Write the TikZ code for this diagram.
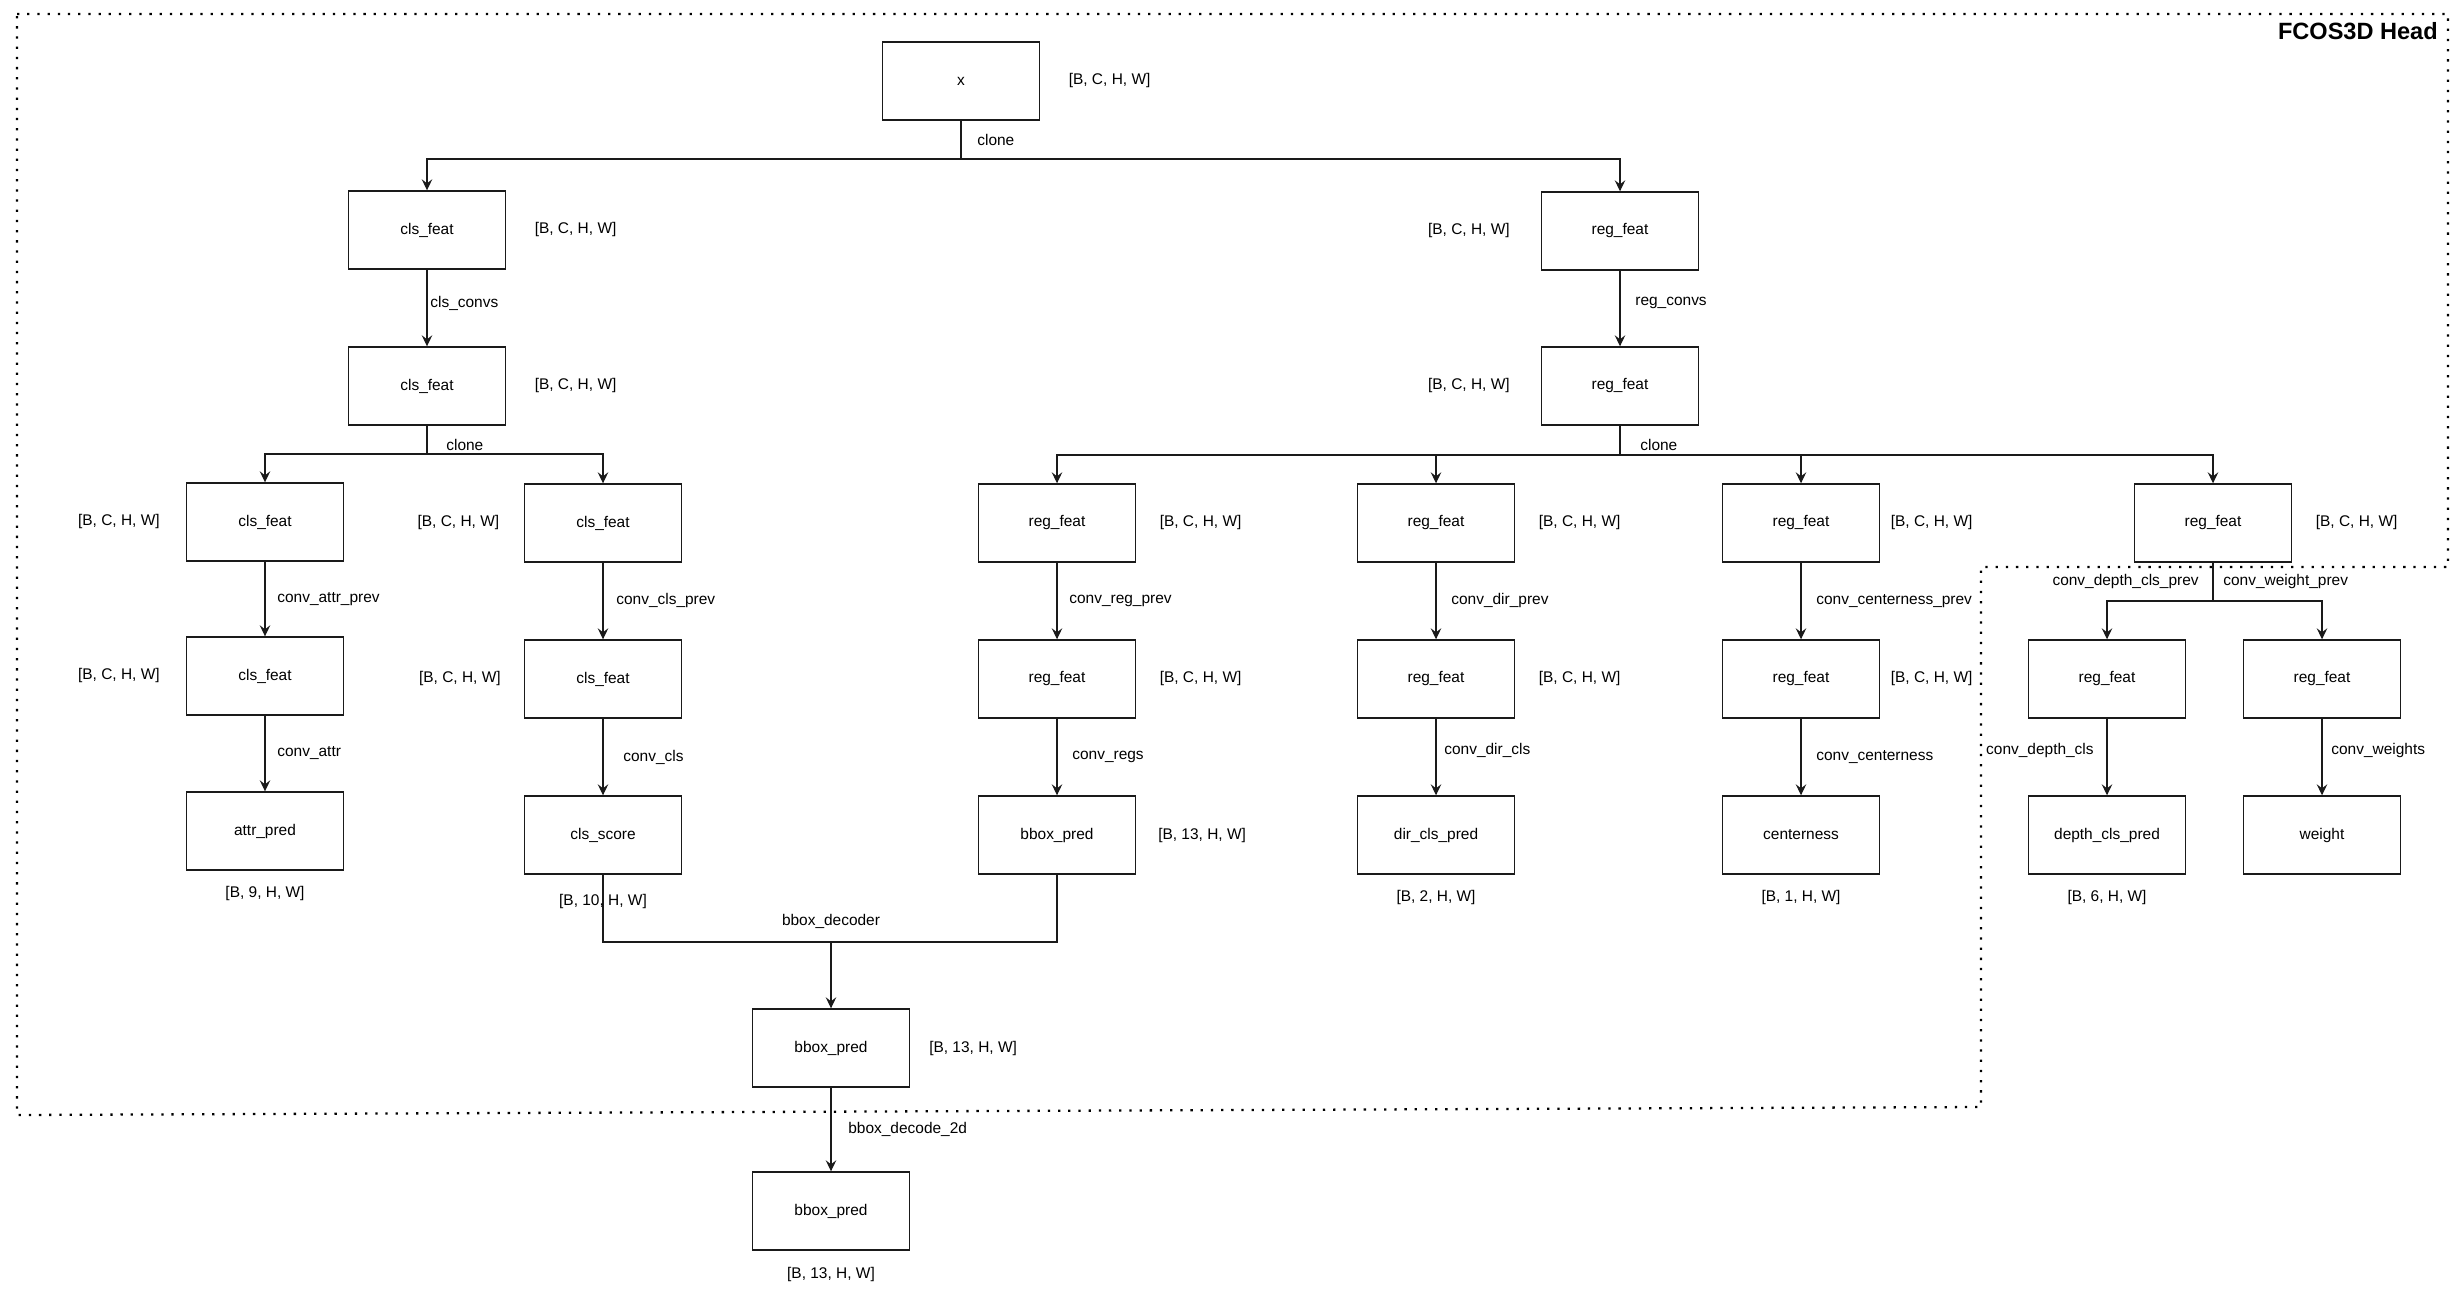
\documentclass[tikz,border=0pt]{standalone}
\usepackage{fontspec}
\setmainfont{Liberation Sans}
\usetikzlibrary{arrows.meta,positioning}
\definecolor{linec}{HTML}{1A1A1A}

\begin{document}
\begin{tikzpicture}[
  x=0.02cm, y=-0.02cm,
  box/.style={rectangle,draw=linec,line width=0.8pt,fill=white,
              minimum width=3.14cm,minimum height=1.56cm,inner sep=0pt,
              font=\fontsize{8.8}{10}\selectfont},
  edge/.style={-{Stealth[length=2.2mm,width=2.1mm,inset=0.8mm]},line width=0.7pt,draw=linec},
  link/.style={line width=0.7pt,draw=linec},
  dim/.style={font=\fontsize{8.8}{10}\selectfont,inner sep=1pt},
  elbl/.style={font=\fontsize{8.8}{10}\selectfont,inner sep=1pt},
  frame/.style={line width=1.3pt,dash pattern=on 1.3pt off 4.5pt},
  headline/.style={font=\fontsize{13.4}{15}\selectfont\bfseries,inner sep=0pt}
]
\useasboundingbox (0,0) rectangle (2464,1300);

\draw[frame] (17,14) -- (2448,14) -- (2448,567) -- (1981,567) -- (1981,1107) -- (17,1115) -- cycle;
\node[headline,anchor=east] (head) at (2438,31) {FCOS3D Head};

\node[box] (inp) at (961,81)    {x};
\node[box] (c1)  at (427,230)   {cls\_feat};
\node[box] (r1)  at (1620,231)  {reg\_feat};
\node[box] (c2)  at (427,386)   {cls\_feat};
\node[box] (r2)  at (1620,386)  {reg\_feat};

\node[box] (ca1) at (265,522)   {cls\_feat};
\node[box] (cb1) at (603,523)   {cls\_feat};
\node[box] (ra1) at (1057,523)  {reg\_feat};
\node[box] (rb1) at (1436,523)  {reg\_feat};
\node[box] (rc1) at (1801,523)  {reg\_feat};
\node[box] (rd1) at (2213,523)  {reg\_feat};

\node[box] (ca2) at (265,676)   {cls\_feat};
\node[box] (cb2) at (603,679)   {cls\_feat};
\node[box] (ra2) at (1057,679)  {reg\_feat};
\node[box] (rb2) at (1436,679)  {reg\_feat};
\node[box] (rc2) at (1801,679)  {reg\_feat};
\node[box] (rd2) at (2107,679)  {reg\_feat};
\node[box] (re2) at (2322,679)  {reg\_feat};

\node[box] (attr)  at (265,831)  {attr\_pred};
\node[box] (score) at (603,835)  {cls\_score};
\node[box] (bbox)  at (1057,835) {bbox\_pred};
\node[box] (dir)   at (1436,835) {dir\_cls\_pred};
\node[box] (ctr)   at (1801,835) {centerness};
\node[box] (depth) at (2107,835) {depth\_cls\_pred};
\node[box] (wgt)   at (2322,835) {weight};
\node[box] (bbox2) at (831,1048) {bbox\_pred};
\node[box] (bbox3) at (831,1211) {bbox\_pred};

\coordinate (s0)  at (961,159);
\coordinate (s1)  at (427,454);
\coordinate (s2)  at (1620,455);
\coordinate (s3)  at (2213,601);
\coordinate (dec) at (831,942);

\draw[link] (inp) -- node[elbl,right=0.28cm] (e0) {clone} (s0);
\draw[edge] (s0) -| (c1);
\draw[edge] (s0) -| (r1);
\draw[edge] (c1) -- node[elbl,right=0.02cm,pos=0.44] (e1) {cls\_convs} (c2);
\draw[edge] (r1) -- node[elbl,right=0.26cm,pos=0.42] (e2) {reg\_convs} (r2);
\draw[link] (c2) -- node[elbl,right=0.34cm,pos=0.68] (e3) {clone} (s1);
\draw[link] (r2) -- node[elbl,right=0.36cm,pos=0.66] (e4) {clone} (s2);
\draw[edge] (s1) -| (ca1);
\draw[edge] (s1) -| (cb1);
\draw[edge] (s2) -| (ra1);
\draw[edge] (s2) -| (rb1);
\draw[edge] (s2) -| (rc1);
\draw[edge] (s2) -| (rd1);

\draw[edge] (ca1) -- node[elbl,right=0.2cm] (e5) {conv\_attr\_prev} (ca2);
\draw[edge] (cb1) -- node[elbl,right=0.22cm] (e6) {conv\_cls\_prev} (cb2);
\draw[edge] (ra1) -- node[elbl,right=0.2cm] (e7) {conv\_reg\_prev} (ra2);
\draw[edge] (rb1) -- node[elbl,right=0.26cm] (e8) {conv\_dir\_prev} (rb2);
\draw[edge] (rc1) -- node[elbl,right=0.26cm] (e9) {conv\_centerness\_prev} (rc2);
\draw[link] (rd1) -- node[elbl,left=0.24cm] (e10) {conv\_depth\_cls\_prev}
                     node[elbl,right=0.16cm] (e11) {conv\_weight\_prev} (s3);
\draw[edge] (s3) -| (rd2);
\draw[edge] (s3) -| (re2);

\draw[edge] (ca2) -- node[elbl,right=0.2cm,pos=0.49] (e12) {conv\_attr} (attr);
\draw[edge] (cb2) -- node[elbl,right=0.36cm] (e13) {conv\_cls} (score);
\draw[edge] (ra2) -- node[elbl,right=0.26cm] (e14) {conv\_regs} (bbox);
\draw[edge] (rb2) -- node[elbl,right=0.12cm,pos=0.41] (e15) {conv\_dir\_cls} (dir);
\draw[edge] (rc2) -- node[elbl,right=0.26cm] (e16) {conv\_centerness} (ctr);
\draw[edge] (rd2) -- node[elbl,left=0.22cm,pos=0.41] (e17) {conv\_depth\_cls} (depth);
\draw[edge] (re2) -- node[elbl,right=0.14cm,pos=0.41] (e18) {conv\_weights} (wgt);

\draw[link] (score) |- (dec);
\draw[link] (bbox) |- (dec);
\node[elbl,above=0.22cm] (e19) at (dec) {bbox\_decoder};
\draw[edge] (dec) -- (bbox2);
\draw[edge] (bbox2) -- node[elbl,right=0.3cm] (e20) {bbox\_decode\_2d} (bbox3);

\node[dim,right=0.53cm of inp] (d0)  {[B, C, H, W]};
\node[dim,right=0.53cm of c1]  (d1)  {[B, C, H, W]};
\node[dim,right=0.53cm of c2]  (d2)  {[B, C, H, W]};
\node[dim,left=0.58cm of r1]   (d3)  {[B, C, H, W]};
\node[dim,left=0.58cm of r2]   (d4)  {[B, C, H, W]};
\node[dim,left=0.48cm of ca1]  (d5)  {[B, C, H, W]};
\node[dim,left=0.48cm of ca2]  (d6)  {[B, C, H, W]};
\node[dim,left=0.45cm of cb1]  (d7)  {[B, C, H, W]};
\node[dim,left=0.42cm of cb2]  (d8)  {[B, C, H, W]};
\node[dim,right=0.43cm of ra1] (d9)  {[B, C, H, W]};
\node[dim,right=0.43cm of ra2] (d10) {[B, C, H, W]};
\node[dim,right=0.40cm of bbox] (d11) {[B, 13, H, W]};
\node[dim,right=0.43cm of rb1] (d12) {[B, C, H, W]};
\node[dim,right=0.43cm of rb2] (d13) {[B, C, H, W]};
\node[dim,right=0.17cm of rc1] (d14) {[B, C, H, W]};
\node[dim,right=0.17cm of rc2] (d15) {[B, C, H, W]};
\node[dim,right=0.43cm of rd1] (d16) {[B, C, H, W]};
\node[dim,right=0.34cm of bbox2] (d17) {[B, 13, H, W]};
\node[dim,below=0.26cm of attr]  (d18) {[B, 9, H, W]};
\node[dim,below=0.34cm of score] (d19) {[B, 10, H, W]};
\node[dim,below=0.26cm of dir]   (d20) {[B, 2, H, W]};
\node[dim,below=0.26cm of ctr]   (d21) {[B, 1, H, W]};
\node[dim,below=0.26cm of depth] (d22) {[B, 6, H, W]};
\node[dim,below=0.28cm of bbox3] (d23) {[B, 13, H, W]};
\end{tikzpicture}
\end{document}
